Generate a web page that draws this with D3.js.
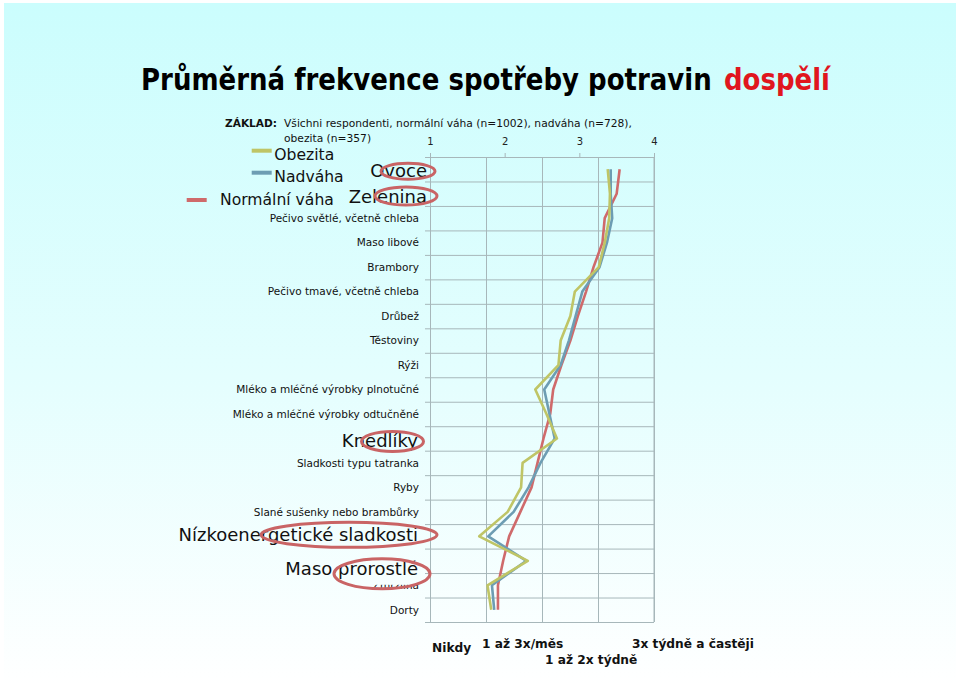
<!DOCTYPE html>
<html><head><meta charset="utf-8">
<script src="https://cdn.jsdelivr.net/npm/d3@7/dist/d3.min.js"></script>
<style>html,body{margin:0;padding:0;background:#fff;}svg{display:block;}</style>
</head><body>
<script>
// ---------- data ----------
const categories = ["Ovoce","Zelenina","Pečivo světlé, včetně chleba","Maso libové","Brambory",
  "Pečivo tmavé, včetně chleba","Drůbež","Těstoviny","Rýži","Mléko a mléčné výrobky plnotučné",
  "Mléko a mléčné výrobky odtučněné","Knedlíky","Sladkosti typu tatranka","Ryby",
  "Slané sušenky nebo brambůrky","Nízkoenergetické sladkosti","Maso prorostlé","Zmrzlina","Dorty"];
const highlighted = ["Ovoce","Zelenina","Knedlíky","Nízkoenergetické sladkosti","Maso prorostlé"];
const seriesNames = ["Normální váha","Nadváha","Obezita"];
const normalWeight = [3.54,3.50,3.34,3.31,3.19,3.09,2.98,2.88,2.76,2.65,2.61,2.52,2.44,2.36,2.21,2.06,1.98,1.91,1.91];
const overweight   = [3.42,3.42,3.44,3.37,3.27,3.04,2.95,2.86,2.75,2.53,2.60,2.67,2.48,2.32,2.12,1.78,2.29,1.83,1.86];
const obesity      = [3.38,3.41,3.40,3.34,3.26,2.94,2.88,2.75,2.72,2.41,2.56,2.70,2.24,2.22,2.04,1.66,2.31,1.77,1.82];
const tickValues = [1,2,3,4];
const freqLabels = ["Nikdy","1 až 3x/měs","1 až 2x týdně","3x týdně a častěji"];
const titleMain = "Průměrná frekvence spotřeby potravin";
const titleRed = "dospělí";
const baseLabel = "ZÁKLAD:";
const baseText1 = "Všichni respondenti, normální váha (n=1002), nadváha (n=728),";
const baseText2 = "obezita (n=357)";

// ---------- layout ----------
const W = 960, H = 686;
const plot = {left:430, right:654, top:157, bottom:622};
const colors = {"Normální váha":"#cf6a6b","Nadváha":"#6d9db3","Obezita":"#bfc566"};
const gridColor = "#a7b7ba";

const svg = d3.select("body").append("svg").attr("width",W).attr("height",H)
  .style("font-family","'DejaVu Sans', Verdana, sans-serif");

const defs = svg.append("defs");
const grad = defs.append("linearGradient").attr("id","bg")
  .attr("gradientUnits","userSpaceOnUse").attr("x1",0).attr("y1",0).attr("x2",0).attr("y2",H);
grad.append("stop").attr("offset","0%").attr("stop-color","#cbfdfd");
grad.append("stop").attr("offset","55%").attr("stop-color","#e4fefe");
grad.append("stop").attr("offset","100%").attr("stop-color","#ffffff");

svg.append("rect").attr("x",0).attr("y",0).attr("width",W).attr("height",H).attr("fill","#fff");
svg.append("rect").attr("x",4).attr("y",3).attr("width",W-8).attr("height",H-6).attr("fill","url(#bg)");

// scales
const x = d3.scaleLinear().domain([1,4]).range([plot.left, plot.right]);
const y = d3.scaleBand().domain(categories).range([plot.top, plot.bottom]).padding(0);
const yIdx = d3.scaleLinear().domain([0,categories.length]).range([plot.top, plot.bottom]);
const yc = c => y(c) + y.bandwidth()/2;

// vertical gridlines (0.75 step)
const vGrid = svg.append("g").attr("transform",`translate(0,${plot.top})`)
  .call(d3.axisTop(x).tickValues(d3.range(1,4.01,0.75)).tickSize(-(plot.bottom-plot.top)).tickFormat(""));
vGrid.select(".domain").remove();
vGrid.selectAll("line").attr("stroke",gridColor);

// horizontal gridlines + left ticks
const hGrid = svg.append("g").attr("transform",`translate(${plot.left},0)`)
  .call(d3.axisLeft(yIdx).tickValues(d3.range(0,categories.length+1)).tickSizeInner(-(plot.right-plot.left)).tickSizeOuter(0).tickFormat(""));
hGrid.selectAll("line").attr("stroke",gridColor);
hGrid.select(".domain").attr("stroke",gridColor);
const lTicks = svg.append("g").attr("transform",`translate(${plot.left},0)`)
  .call(d3.axisLeft(yIdx).tickValues(d3.range(0,categories.length+1)).tickSize(5).tickFormat(""));
lTicks.select(".domain").attr("stroke",gridColor);
lTicks.selectAll("line").attr("stroke",gridColor);

// top axis with labels
const topAx = svg.append("g").attr("transform",`translate(0,${plot.top})`)
  .call(d3.axisTop(x).tickValues(tickValues).tickSize(4).tickSizeOuter(0).tickFormat(d3.format("d")));
topAx.select(".domain").attr("stroke",gridColor);
topAx.selectAll("line").attr("stroke",gridColor);
topAx.selectAll("text").attr("font-size",10).attr("fill","#222").attr("font-family","'DejaVu Sans', sans-serif").attr("dy","-0.55em");
svg.append("line").attr("x1",plot.right).attr("x2",plot.right).attr("y1",plot.top).attr("y2",plot.bottom).attr("stroke",gridColor);

// lines
const seriesData = [normalWeight, overweight, obesity];
const line = d3.line().x(d => x(d.v)).y(d => yc(d.c));
seriesData.forEach((vals,i) => {
  svg.append("path").datum(categories.map((c,j)=>({c, v:vals[j]})))
    .attr("d", line).attr("fill","none").attr("stroke", colors[seriesNames[i]])
    .attr("stroke-width",2.6).attr("stroke-linejoin","round");
});

// small category labels
categories.filter(c => !highlighted.includes(c)).forEach(c => {
  svg.append("text").attr("x",419).attr("y",yc(c)+3.8).attr("text-anchor","end")
    .attr("font-size",10.5).attr("fill","#111").text(c);
});

// cover box over Zmrzlina (from large label box)
const bigLayout = {
  "Ovoce":{dx:8, dy:7.5, ex:-11, ey:2, rx:27, ry:8},
  "Zelenina":{dx:8, dy:9.6, ex:-13, ey:2.3, rx:31, ry:9},
  "Knedlíky":{dx:-1, dy:8.5, ex:-26.5, ey:3, rx:31, ry:10},
  "Nízkoenergetické sladkosti":{dx:-1, dy:5, ex:-70, ey:-1.5, rx:88, ry:12.5},
  "Maso prorostlé":{dx:-1, dy:14, ex:-37, ey:13, rx:48, ry:15}
};
svg.append("rect").attr("x",280).attr("y",yc("Maso prorostlé")-5).attr("width",142).attr("height",29).attr("fill","url(#bg)");

highlighted.forEach(c => {
  const L = bigLayout[c];
  svg.append("text").attr("x",419+L.dx).attr("y",yc(c)+L.dy).attr("text-anchor","end")
    .attr("font-size",18).attr("fill","#111").text(c);
});
highlighted.forEach(c => {
  const L = bigLayout[c];
  svg.append("ellipse").attr("cx",419+L.ex).attr("cy",yc(c)+L.ey).attr("rx",L.rx).attr("ry",L.ry)
    .attr("fill","none").attr("stroke","#c96465").attr("stroke-width",3);
});

// legend
const legendLayout = [
  {name:"Obezita", x1:251.7, x2:271.7, ly:150.7, tx:274.3, ty:160},
  {name:"Nadváha", x1:251.7, x2:271.7, ly:172.7, tx:274.3, ty:181.7},
  {name:"Normální váha", x1:186.7, x2:206.7, ly:200, tx:220, ty:205}
];
legendLayout.forEach(L => {
  svg.append("line").attr("x1",L.x1).attr("x2",L.x2).attr("y1",L.ly).attr("y2",L.ly)
    .attr("stroke",colors[L.name]).attr("stroke-width",4);
  svg.append("text").attr("x",L.tx).attr("y",L.ty).attr("font-size",15.6).attr("fill","#111").text(L.name);
});

// title (horizontally scaled to fit reference widths)
function fitText(str, x0, y0, width, fill) {
  const g = svg.append("g");
  const t = g.append("text").attr("x",0).attr("y",0).attr("font-size",31).attr("font-weight","bold")
    .attr("fill",fill).text(str);
  const w = t.node().getComputedTextLength();
  g.attr("transform",`translate(${x0},${y0}) scale(${width/w},1)`);
}
fitText(titleMain, 141, 90, 571, "#000");
fitText(titleRed, 724, 90, 106, "#e0161e");

// base text
svg.append("text").attr("x",225).attr("y",126.5).attr("font-size",10.6).attr("font-weight","bold").attr("fill","#111").text(baseLabel);
svg.append("text").attr("x",284).attr("y",126.5).attr("font-size",10.7).attr("fill","#111").text(baseText1);
svg.append("text").attr("x",284).attr("y",142.3).attr("font-size",10.7).attr("fill","#111").text(baseText2);

// frequency labels
const freqPos = [{x:432,y:652},{x:482,y:648},{x:545,y:664},{x:632,y:648}];
freqLabels.forEach((s,i) => {
  svg.append("text").attr("x",freqPos[i].x).attr("y",freqPos[i].y).attr("font-size",12.2)
    .attr("font-weight","bold").attr("fill","#111").text(s);
});
</script>
</body></html>
